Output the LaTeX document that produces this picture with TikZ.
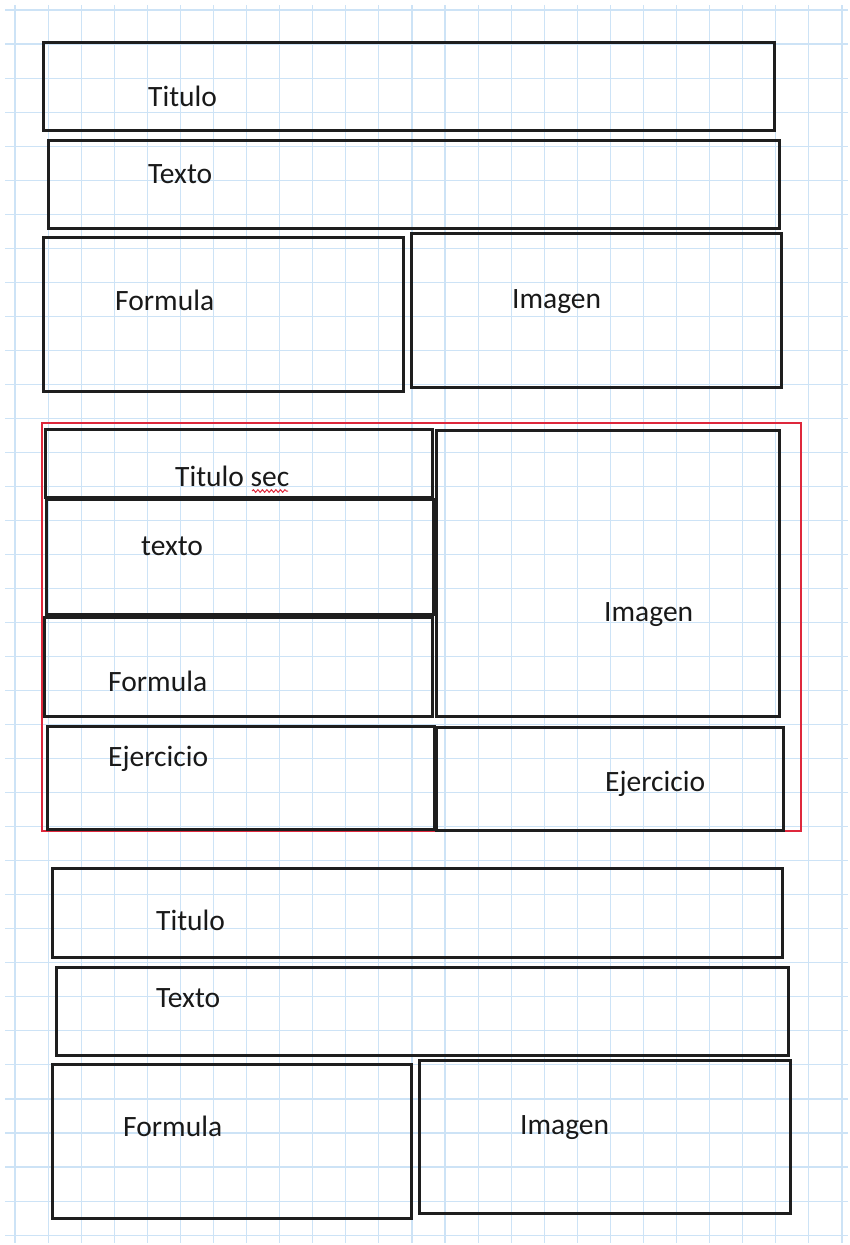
\documentclass[tikz,border=0pt]{standalone}
\usepackage{fontspec}
\setmainfont{Carlito}
\usetikzlibrary{fit,decorations.pathmorphing}
\definecolor{gridblue}{RGB}{205,227,246}
\definecolor{boxline}{RGB}{30,30,30}
\definecolor{framered}{RGB}{222,40,60}
\definecolor{txt}{RGB}{25,25,25}
\tikzset{
  box/.style={draw=boxline, line width=3pt, inner sep=0pt, rectangle},
  redframe/.style={draw=framered, line width=1.9pt, inner sep=0pt, rectangle},
  lbl/.style={anchor=base west, inner sep=0pt, text=txt, font=\fontsize{29.5}{32}\selectfont},
  gridline/.style={draw=gridblue, line width=1.1pt}
}
\begin{document}
\begin{tikzpicture}[x=1pt,y=-1pt]
\fill[white] (0,0) rectangle (850,1245);
\useasboundingbox (0,0) rectangle (850,1245);
% grid
\foreach \k in {0,...,25} {\draw[gridline] ({15+33.08*\k},5) -- ({15+33.08*\k},1243);}
\foreach \k in {0,...,36} {\draw[gridline] (5,{10+34.03*\k}) -- (848,{10+34.03*\k});}
% top section
\node[box, fit={(43,42) (774,130)}] (tit1) {};
\node[box, fit={(48,140) (779,228)}] (tex1) {};
\node[box, fit={(43,237) (403,391)}] (for1) {};
\node[box, fit={(411,233) (781,387)}] (img1) {};
\node[lbl] (ltit1) at (148,106) {Titulo};
\node[lbl] (ltex1) at (148,183) {Texto};
\node[lbl] (lfor1) at (115,310) {Formula};
\node[lbl] (limg1) at (512,308) {Imagen};
% middle section
\node[redframe, fit={(42,423) (801,831)}] (frame) {};
\node[box, fit={(45,429) (432,497)}] (tsec) {};
\node[box, fit={(46,499) (433,614)}] (tex2) {};
\node[box, fit={(44,617) (432,716)}] (for2) {};
\node[box, fit={(436,430) (779,716)}] (img2) {};
\node[box, fit={(47,726) (434,829)}] (eje1) {};
\node[box, fit={(436,727) (783,830)}] (eje2) {};
\node[lbl] (ltsec) at (175,486) {Titulo sec};
\draw[framered, line width=1pt, decorate, decoration={snake, amplitude=1.3pt, segment length=4.5pt}] (252,491) -- (288,491);
\node[lbl] (ltex2) at (141,555) {texto};
\node[lbl] (lfor2) at (108,691) {Formula};
\node[lbl] (limg2) at (604,621) {Imagen};
\node[lbl] (leje1) at (108,766) {Ejercicio};
\node[lbl] (leje2) at (605,791) {Ejercicio};
% bottom section
\node[box, fit={(52,868) (782,957)}] (tit3) {};
\node[box, fit={(56,967) (788,1055)}] (tex3) {};
\node[box, fit={(52,1064) (411,1218)}] (for3) {};
\node[box, fit={(419,1060) (790,1213)}] (img3) {};
\node[lbl] (ltit3) at (156,930) {Titulo};
\node[lbl] (ltex3) at (156,1007) {Texto};
\node[lbl] (lfor3) at (123,1136) {Formula};
\node[lbl] (limg3) at (520,1134) {Imagen};
\end{tikzpicture}
\end{document}
